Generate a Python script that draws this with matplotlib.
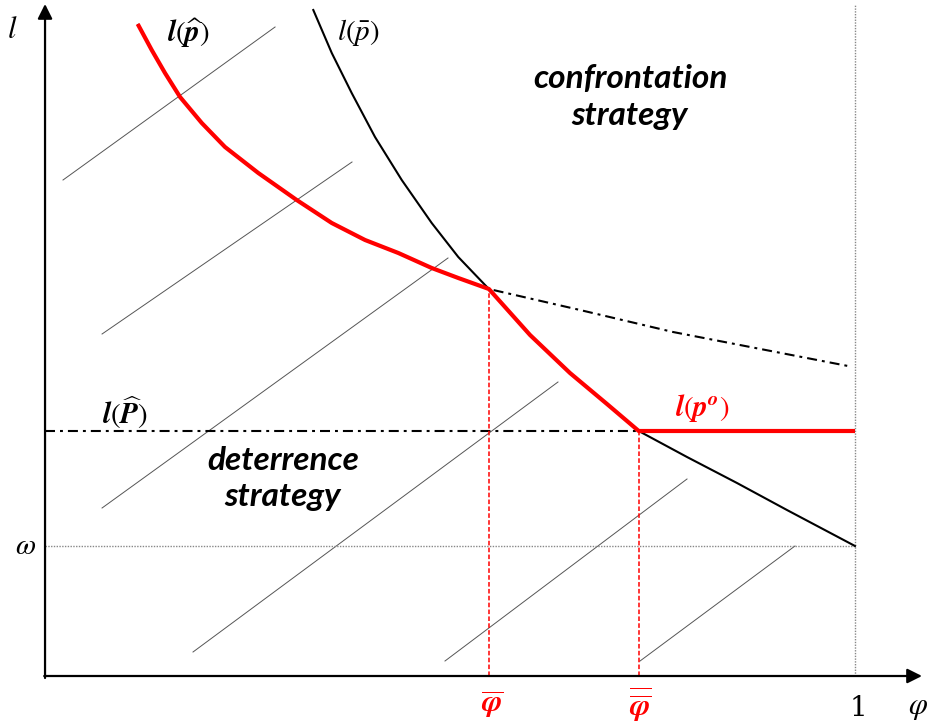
import numpy as np
import matplotlib
matplotlib.use('Agg')
import matplotlib.pyplot as plt

plt.rcParams['mathtext.fontset'] = 'stix'

# thresholds (phi on x, l on y)
phi_bar = 0.548
phi_dbar = 0.733
omega = 1.30
l_P_hat = 2.45

# l(p-hat) curve, continues as dash-dot beyond the kink
phi_hat = [0.1144, 0.1317, 0.1481, 0.1667, 0.1935, 0.2222, 0.2633, 0.3107,
           0.3540, 0.3951, 0.4362, 0.4774, 0.5102, 0.548, 0.6605, 0.7753,
           0.9914]
l_hat = [6.52, 6.26, 6.03, 5.79, 5.53, 5.29, 5.03, 4.76, 4.53, 4.36, 4.23,
         4.08, 3.98, 3.87, 3.66, 3.44, 3.10]

# l(p-bar) curve
phi_pbar = [0.3312, 0.3540, 0.3786, 0.4074, 0.4404, 0.4774, 0.5102, 0.548,
            0.5988, 0.6481, 0.6938, 0.733, 0.7926, 0.8543, 0.9160, 1.0]
l_pbar = [6.66, 6.23, 5.83, 5.39, 4.96, 4.53, 4.19, 3.87, 3.41, 3.03, 2.72,
          2.45, 2.19, 1.93, 1.66, 1.30]

# hatching segments
hatch_start = [(0.0222, 4.96), (0.0704, 3.42), (0.0704, 1.68),
               (0.1827, 0.24), (0.4938, 0.15), (0.7346, 0.15)]
hatch_end = [(0.2840, 6.49), (0.3790, 5.14), (0.4975, 4.18),
             (0.6333, 2.94), (0.7926, 1.97), (0.9259, 1.30)]

red = '#ff0000'
dashdot = (0, (4.8, 2.4, 1.4, 2.4))

fig = plt.figure(figsize=(9.27, 7.24), dpi=100)
ax = fig.add_axes([0, 0, 1, 1])
ax.set_xlim(-0.0556, 1.0889)
ax.set_ylim(-0.48, 6.76)
ax.axis('off')

# hatching
for (x0, y0), (x1, y1) in zip(hatch_start, hatch_end):
    ax.plot([x0, x1], [y0, y1], color='#555555', lw=0.7)

# reference lines
ax.plot([0, 1.0], [omega, omega], color='#888888', lw=1.0, ls=(0, (1, 1)))
ax.plot([1.0, 1.0], [0, 6.72], color='#888888', lw=1.0, ls=(0, (1, 1)))
ax.plot([0, phi_dbar], [l_P_hat, l_P_hat], color='black', lw=1.5, ls=dashdot)
ax.plot([phi_bar, phi_bar], [0, 3.87], color=red, lw=1.1, ls=(0, (3, 1.5)))
ax.plot([phi_dbar, phi_dbar], [0, l_P_hat], color=red, lw=1.1, ls=(0, (3, 1.5)))

# curves
ax.plot(phi_hat, l_hat, color='black', lw=1.5, ls=dashdot)
ax.plot(phi_pbar, l_pbar, color='black', lw=1.5, solid_joinstyle='round')

# red envelope: l(p-hat) to kink, then l(p-bar) to phi_dbar, then flat
k = int(np.argmin(np.abs(np.array(phi_hat) - phi_bar)))
j0 = int(np.argmin(np.abs(np.array(phi_pbar) - phi_bar)))
j1 = int(np.argmin(np.abs(np.array(phi_pbar) - phi_dbar)))
red_x = phi_hat[:k + 1] + phi_pbar[j0 + 1:j1 + 1] + [1.0]
red_y = l_hat[:k + 1] + l_pbar[j0 + 1:j1 + 1] + [l_P_hat]
ax.plot(red_x, red_y, color=red, lw=3.0, solid_capstyle='butt',
        solid_joinstyle='round')

# axes with arrows
ax.annotate('', xy=(0, 6.72), xytext=(0, -0.02),
            arrowprops=dict(arrowstyle='-|>', color='black', lw=1.6,
                            mutation_scale=22, shrinkA=0, shrinkB=0))
ax.annotate('', xy=(1.0827, 0), xytext=(-0.001, 0),
            arrowprops=dict(arrowstyle='-|>', color='black', lw=1.6,
                            mutation_scale=22, shrinkA=0, shrinkB=0))

# labels
ax.text(-0.0407, 6.46, r'$l$', fontsize=22, ha='center', va='center')
ax.text(-0.0235, omega, r'$\omega$', fontsize=21, ha='center', va='center')
ax.text(0.1765, 6.43, r'$\mathbfit{l}(\widehat{\mathbfit{p}})$', fontsize=21,
        ha='center', va='center')
ax.text(0.3864, 6.43, r'$l(\bar{p})$', fontsize=21, ha='center', va='center')
ax.text(0.0988, 2.63, r'$\mathbfit{l}(\widehat{\mathbfit{P}})$', fontsize=21,
        ha='center', va='center')
ax.text(0.8111, 2.68, r'$\mathbfit{l}(\mathbfit{p}^{\mathbfit{o}})$',
        fontsize=21, ha='center', va='center', color=red)

ax.text(0.7222, 5.79, 'confrontation\nstrategy', fontsize=24,
        family='Lato', style='italic', weight='bold', ha='center',
        va='center', linespacing=1.32)
ax.text(0.2938, 1.975, 'deterrence\nstrategy', fontsize=24,
        family='Lato', style='italic', weight='bold', ha='center',
        va='center', linespacing=1.3)

ax.text(phi_bar + 0.004, -0.29, r'$\overline{\mathbfit{\varphi}}$',
        fontsize=22, ha='center', va='center', color=red)
ax.text(phi_dbar + 0.002, -0.29,
        r'$\overline{\overline{\mathbfit{\varphi}}}$',
        fontsize=22, ha='center', va='center', color=red)
ax.text(1.0037, -0.32, '1', fontsize=20, family='DejaVu Serif',
        ha='center', va='center')
ax.text(1.0778, -0.32, r'$\varphi$', fontsize=22, ha='center', va='center')

fig.savefig('out.png', dpi=100)
